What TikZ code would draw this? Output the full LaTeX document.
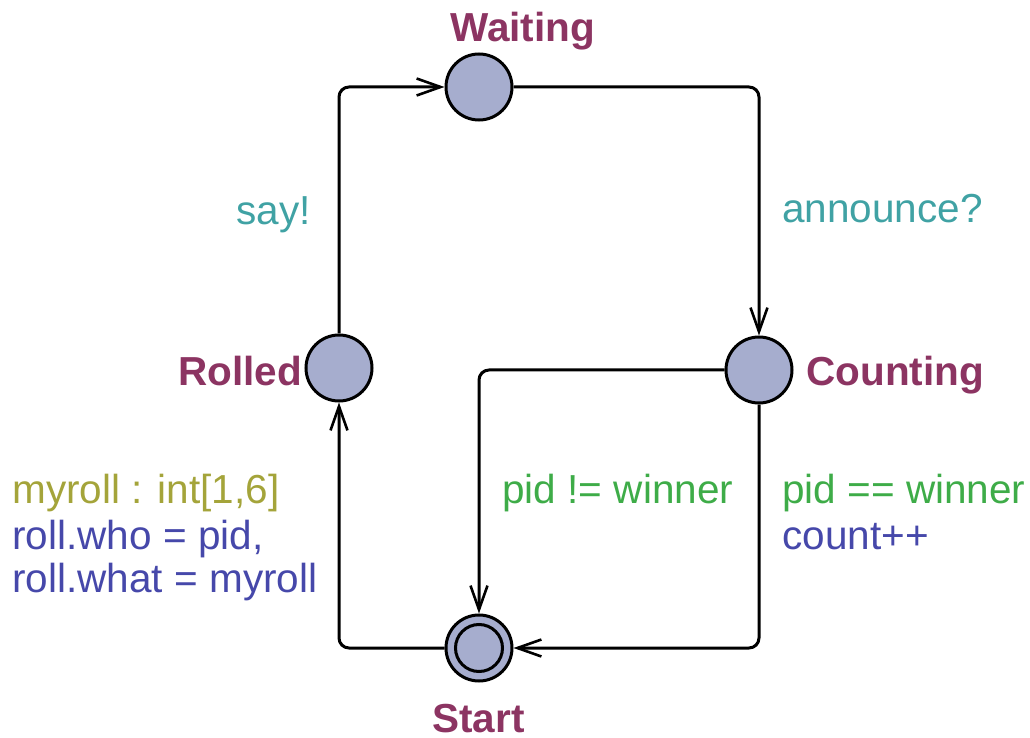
\documentclass[tikz,border=0pt]{standalone}
\usepackage{fontspec}
\setmainfont{Liberation Sans}
\usetikzlibrary{arrows.meta}
\definecolor{locname}{RGB}{140,52,98}
\definecolor{locfill}{RGB}{166,173,206}
\definecolor{synccol}{RGB}{64,162,164}
\definecolor{guardcol}{RGB}{62,172,72}
\definecolor{selcol}{RGB}{164,164,58}
\definecolor{assigncol}{RGB}{70,72,170}
\tikzset{
  loc/.style={circle,draw=black,line width=1.5pt,fill=locfill,minimum size=33pt,inner sep=0pt},
  locname/.style={font=\fontsize{20.25}{22}\selectfont\bfseries,text=locname,inner sep=0pt,anchor=base west},
  lab/.style={font=\fontsize{20.25}{22}\selectfont,inner sep=0pt,anchor=base west},
  edge/.style={line width=1.5pt,rounded corners=5pt,-{Straight Barb[length=12pt,width=8.5pt,line width=1.3pt]}}
}
\begin{document}
\begin{tikzpicture}[x=0.5pt,y=-0.5pt]
\useasboundingbox (0,0) rectangle (1030,738);
\node[loc] (waiting) at (479,87) {};
\node[loc] (rolled) at (339,368) {};
\node[loc] (counting) at (759,370) {};
\node[loc] (start) at (479,648) {};
\node[circle,draw=black,line width=1.5pt,minimum size=23.5pt,inner sep=0pt] (startinner) at (start.center) {};

\node[locname] (nw) at (450,42) {Waiting};
\node[locname] (nr) at (178,386) {Rolled};
\node[locname] (nc) at (806,386) {Counting};
\node[locname] (ns) at (432,732) {Start};

\draw[edge] (rolled.north) |- (waiting.west);
\draw[edge] (waiting.east) -| (counting.north);
\draw[edge] (counting.west) -| (start.north);
\draw[edge] (counting.south) |- (start.east);
\draw[edge] (start.west) -| (rolled.south);

\node[lab,text=synccol] (l1) at (236,225) {say!};
\node[lab,text=synccol] (l2) at (782,223) {announce?};
\node[lab,text=guardcol] (l3) at (502,503) {pid != winner};
\node[lab,text=guardcol] (l4) at (782,503) {pid == winner};
\node[lab,text=assigncol] (l5) at (782,549) {count++};
\node[lab,text=selcol] (l6) at (12,503) {myroll : int[1,6]};
\node[lab,text=assigncol] (l7) at (12,549) {roll.who = pid,};
\node[lab,text=assigncol] (l8) at (12,592) {roll.what = myroll};
\end{tikzpicture}
\end{document}
